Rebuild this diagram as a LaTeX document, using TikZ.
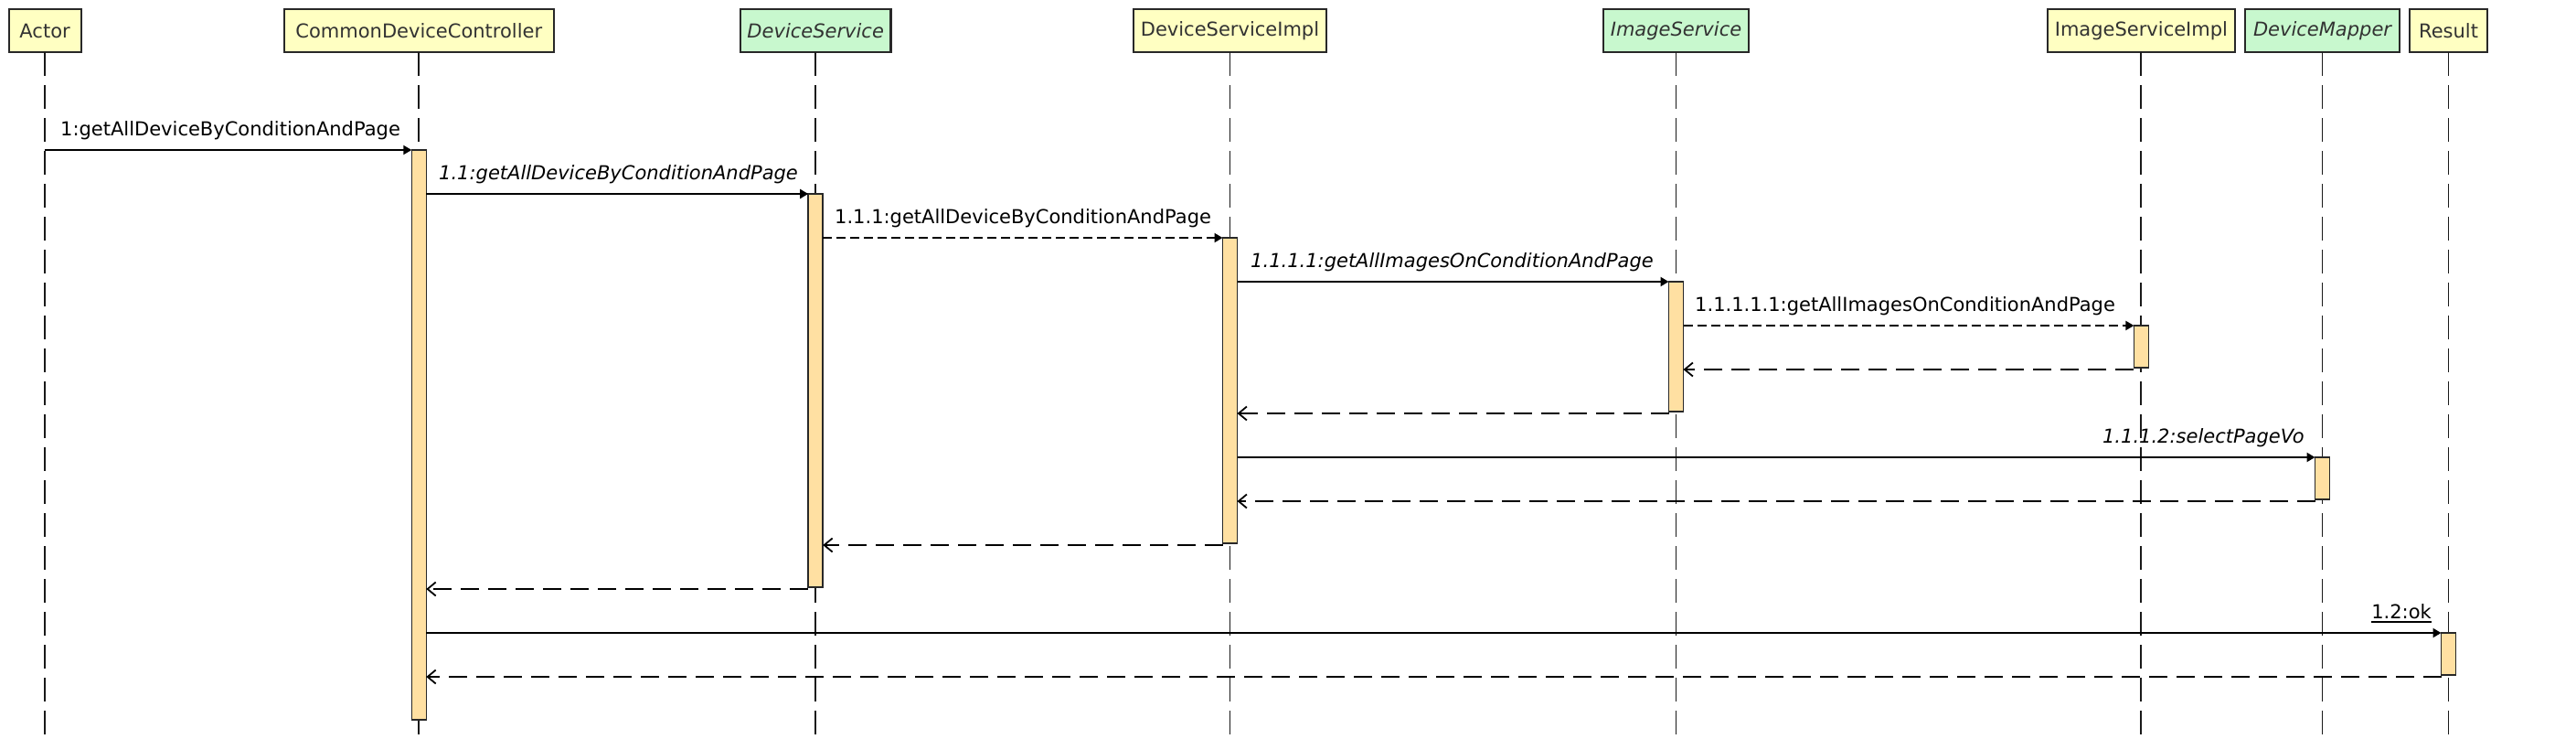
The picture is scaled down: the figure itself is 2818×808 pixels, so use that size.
\documentclass[tikz,border=0pt]{standalone}
\usepackage{fontspec}
\setmainfont{DejaVu Sans}
\usetikzlibrary{arrows.meta}
\definecolor{yel}{RGB}{255,255,194}
\definecolor{grn}{RGB}{200,248,206}
\definecolor{act}{RGB}{255,224,162}
\definecolor{bord}{RGB}{40,40,40}
\definecolor{txt}{RGB}{50,50,50}
\begin{document}
\begin{tikzpicture}[x=1pt,y=-1pt,
  obj/.style={draw=bord, line width=2.2pt, minimum height=47pt, inner sep=0pt, outer sep=0pt, text=txt, font=\fontsize{21}{25}\selectfont},
  cls/.style={obj, fill=yel},
  ifc/.style={obj, fill=grn, font=\fontsize{21}{25}\selectfont\itshape},
  life/.style={line width=1.9pt, dash pattern=on 26pt off 10pt, draw=black!90},
  actbar/.style={draw=bord, fill=act, line width=1.6pt, minimum width=16pt, inner sep=0pt, outer sep=0pt},
  call/.style={line width=1.9pt, -{Triangle[length=9pt,width=10pt]}},
  dcall/.style={call, dash pattern=on 10pt off 5pt},
  ret/.style={line width=1.9pt, dash pattern=on 20pt off 10pt, -{Straight Barb[length=9pt,width=15pt,line width=1.8pt]}},
  lbl/.style={font=\fontsize{21}{25}\selectfont, inner sep=0pt, anchor=base west},
  ilbl/.style={lbl, font=\fontsize{21}{25}\selectfont\itshape},
]
\useasboundingbox (0,0) rectangle (2818,808);
% participants
\node[cls, minimum width=79pt]    (actor) at (49.1,33.5)   {Actor};
\node[cls, minimum width=295.4pt] (cdc)   at (458.3,33.5)  {CommonDeviceController};
\node[ifc, minimum width=164.5pt] (ds)    at (892.2,33.5)  {DeviceService};
\node[cls, minimum width=211pt]   (dsi)   at (1345.5,33.5) {DeviceServiceImpl};
\node[ifc, minimum width=159pt]   (is)    at (1833.5,33.5) {ImageService};
\node[cls, minimum width=205pt]   (isi)   at (2342.4,33.5) {ImageServiceImpl};
\node[ifc, minimum width=169pt]   (dm)    at (2540.5,33.5) {DeviceMapper};
\node[cls, minimum width=85pt]    (res)   at (2678.5,33.5) {Result};
% lifelines
\foreach \p in {actor,cdc,ds,dsi,is,isi,dm,res}{
  \coordinate (\p-end) at (\p.south |- 0,806);
  \draw[life] (\p.south) -- (\p-end);
}
% activation bars
\node[actbar, minimum height=623pt] (bcdc) at (cdc.south |- 0,475.5) {};
\node[actbar, minimum height=430pt] (bds)  at (ds.south |- 0,427) {};
\node[actbar, minimum height=334pt] (bdsi) at (dsi.south |- 0,427) {};
\node[actbar, minimum height=142pt] (bis)  at (is.south |- 0,379) {};
\node[actbar, minimum height=46pt]  (bisi) at (isi.south |- 0,379) {};
\node[actbar, minimum height=46pt]  (bdm)  at (dm.south |- 0,523) {};
\node[actbar, minimum height=46pt]  (bres) at (res.south |- 0,715) {};
% messages
\draw[call]  (actor.south |- 0,164) -- (bcdc.west |- 0,164);
\node[lbl] (l1) at (66,148) {1:getAllDeviceByConditionAndPage};
\draw[call]  (bcdc.east |- 0,212) -- (bds.west |- 0,212);
\node[ilbl] (l2) at (480,196) {1.1:getAllDeviceByConditionAndPage};
\draw[dcall] (bds.east |- 0,260) -- (bdsi.west |- 0,260);
\node[lbl] (l3) at (913,244) {1.1.1:getAllDeviceByConditionAndPage};
\draw[call]  (bdsi.east |- 0,308) -- (bis.west |- 0,308);
\node[ilbl] (l4) at (1368,292) {1.1.1.1:getAllImagesOnConditionAndPage};
\draw[dcall] (bis.east |- 0,356) -- (bisi.west |- 0,356);
\node[lbl] (l5) at (1854,340) {1.1.1.1.1:getAllImagesOnConditionAndPage};
\draw[ret]   (bisi.west |- 0,404) -- (bis.east |- 0,404);
\draw[ret]   (bis.west |- 0,452) -- (bdsi.east |- 0,452);
\draw[call]  (bdsi.east |- 0,500) -- (bdm.west |- 0,500);
\node[ilbl, anchor=base east] (l8) at (2521,484) {1.1.1.2:selectPageVo};
\draw[ret]   (bdm.west |- 0,548) -- (bdsi.east |- 0,548);
\draw[ret]   (bdsi.west |- 0,596) -- (bds.east |- 0,596);
\draw[ret]   (bds.west |- 0,644) -- (bcdc.east |- 0,644);
\draw[call]  (bcdc.east |- 0,692) -- (bres.west |- 0,692);
\node[lbl, anchor=base east] (l12) at (2660,676) {1.2:ok};
\draw[line width=1.5pt] (l12.base west) ++(0,4) coordinate (u1) -- (u1 -| l12.east);
\draw[ret]   (bres.west |- 0,740) -- (bcdc.east |- 0,740);
\end{tikzpicture}
\end{document}
